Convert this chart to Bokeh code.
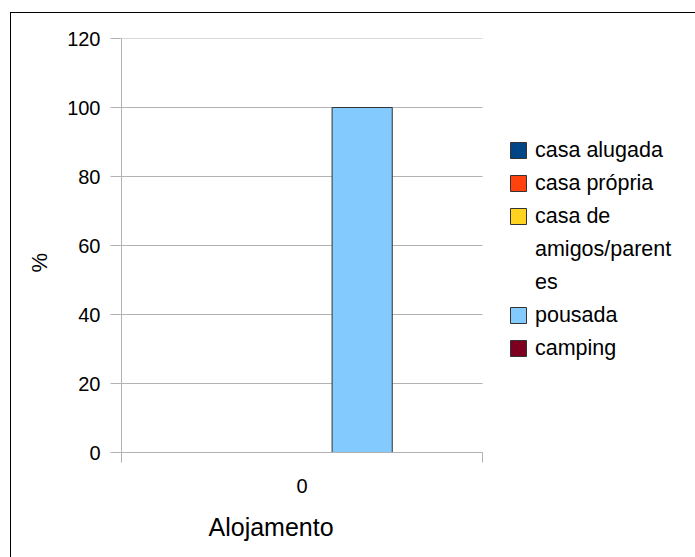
from bokeh.plotting import figure
from bokeh.models import (Range1d, FixedTicker, Legend, LegendItem, Title,
                          ColumnDataSource)
from bokeh.transform import dodge
from bokeh.embed import file_html
from bokeh.resources import INLINE

# Accommodation type, share of respondents (%)
categories = ["0"]
casa_alugada = [0]
casa_propria = [0]
casa_amigos = [0]
pousada = [100]
camping = [0]

series_labels = ["casa alugada", "casa própria", "casa de amigos/parentes",
                 "pousada", "camping"]
# legend text as it wraps in the key box
legend_lines = [["casa alugada"], ["casa própria"],
                ["casa de", "amigos/parent", "es"], ["pousada"], ["camping"]]
series_colors = ["#004586", "#ff420e", "#ffd320", "#83caff", "#7e0021"]
y_ticks = [0, 20, 40, 60, 80, 100, 120]

FONT = "Liberation Sans"
GRID = "#b3b3b3"

n_cat = len(categories)
src = ColumnDataSource(dict(
    x=[i + 0.5 for i in range(n_cat)],
    s0=casa_alugada, s1=casa_propria, s2=casa_amigos, s3=pousada, s4=camping,
))

# The frame runs to the right edge so the key can sit beside the bars;
# the category span (0..n_cat) occupies the left 361 of its 575 pixels.
PLOT_W, KEY_W = 361, 214
p = figure(width=685, height=545, output_backend="svg", toolbar_location=None,
           x_range=Range1d(0, n_cat * (PLOT_W + KEY_W) / PLOT_W),
           y_range=Range1d(0, 120),
           min_border_left=110, min_border_right=0, min_border_top=25,
           min_border_bottom=106)
p.margin = (12, 0, 0, 10)
p.styles = {"border-left": "1px solid black", "border-top": "1px solid black"}
p.outline_line_color = None
p.background_fill_color = "white"
p.border_fill_color = "white"

# horizontal grid lines across the category span only
p.segment(x0=0, x1=n_cat, y0=y_ticks, y1=y_ticks, line_color=GRID,
          line_width=1, level="underlay")

n = len(series_labels)
bar_w = 1.0 / 6
renderers = []
for k in range(n):
    off = (k - (n - 1) / 2) * bar_w
    r = p.vbar(x=dodge("x", off, range=p.x_range), top="s%d" % k, width=bar_w,
               source=src, fill_color=series_colors[k], line_color="#333333",
               line_width=1)
    renderers.append(r)

# blank key entry used for continuation lines of a wrapped label
blank = p.vbar(x="x", top="s0", width=bar_w, source=src,
               fill_alpha=0, line_alpha=0)

p.xgrid.visible = False
p.ygrid.visible = False

yax = p.yaxis[0]
yax.ticker = FixedTicker(ticks=y_ticks)
yax.axis_line_color = GRID
yax.major_tick_line_color = GRID
yax.major_tick_out = 11
yax.major_tick_in = 0
yax.minor_tick_line_color = None
yax.major_label_standoff = 10
yax.major_label_text_font = FONT
yax.major_label_text_font_size = "20px"
yax.major_label_text_color = "black"

xax = p.xaxis[0]
xax.bounds = (0, n_cat)
xax.ticker = FixedTicker(ticks=[i + 0.5 for i in range(n_cat)],
                         minor_ticks=list(range(n_cat + 1)))
xax.major_label_overrides = {i + 0.5: c for i, c in enumerate(categories)}
xax.axis_line_color = GRID
xax.major_tick_line_color = None
xax.major_tick_out = 0
xax.major_tick_in = 0
xax.minor_tick_line_color = GRID
xax.minor_tick_out = 10
xax.minor_tick_in = 0
xax.major_label_standoff = 16
xax.major_label_text_font = FONT
xax.major_label_text_font_size = "20px"
xax.major_label_text_color = "black"

# axis titles
xt = Title(text="Alojamento", align="left", offset=87, text_font=FONT,
           text_font_size="25px", text_font_style="normal", text_color="black",
           standoff=30)
p.add_layout(xt, "below")
yt = Title(text="%", align="left", offset=180, text_font=FONT,
           text_font_size="22px", text_font_style="normal", text_color="black",
           standoff=26)
p.add_layout(yt, "left")

items = []
for k in range(n):
    for j, line in enumerate(legend_lines[k]):
        items.append(LegendItem(label=line,
                                renderers=[renderers[k] if j == 0 else blank]))

legend = Legend(items=items, location=(387, 91), margin=0, padding=0,
                spacing=7, glyph_width=20, glyph_height=20, label_standoff=7,
                label_text_font=FONT, label_text_font_size="21.5px",
                label_text_color="black", label_height=26,
                border_line_color=None, background_fill_alpha=0)
p.add_layout(legend, "center")

open("out.html", "w").write(file_html(p, INLINE))
